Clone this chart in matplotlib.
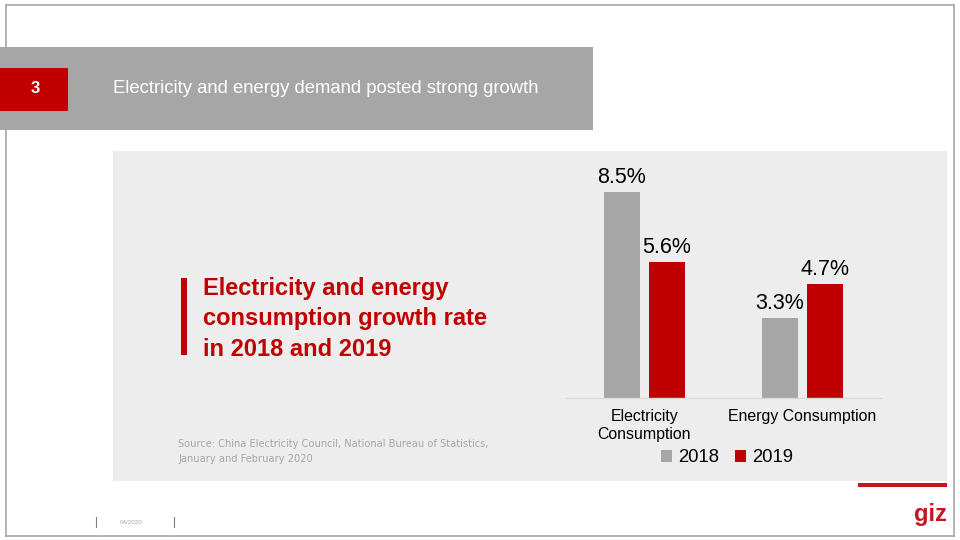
import matplotlib.pyplot as plt
from matplotlib.patches import Rectangle
from matplotlib.lines import Line2D
import numpy as np

plt.rcParams['font.family'] = ['Liberation Sans', 'DejaVu Sans']

# chart data
categories = ['Electricity\nConsumption', 'Energy Consumption']
years = ['2018', '2019']
growth_2018 = [8.5, 3.3]
growth_2019 = [5.6, 4.7]

GRAY = '#a6a6a6'
RED = '#c00000'
PANEL = '#ededed'

W, H = 960, 540
fig = plt.figure(figsize=(9.6, 5.4), dpi=100)
fig.patch.set_facecolor('white')


def px(x, y):
    # pixel coords (top-left origin) -> figure fraction
    return x / W, 1 - y / H


def rect(x0, y0, x1, y1, color, z=0):
    fig.patches.append(Rectangle(px(x0, y1), (x1 - x0) / W, (y1 - y0) / H,
                                 transform=fig.transFigure, facecolor=color,
                                 edgecolor='none', zorder=z))


def line(x0, y0, x1, y1, color, lw=1.0, z=5):
    a, b = px(x0, y0)
    c, d = px(x1, y1)
    fig.lines.append(Line2D([a, c], [b, d], transform=fig.transFigure,
                            color=color, lw=lw, zorder=z))


# slide border (sits under the header band)
line(6, 5, 954, 5, '#a6a6a6', 1.2, 0.5)
line(6, 5, 6, 536, '#a6a6a6', 1.2, 0.5)
line(954, 5, 954, 536, '#a6a6a6', 1.2, 0.5)
line(6, 536, 954, 536, '#a6a6a6', 1.2, 0.5)

# header band
rect(0, 47, 593, 130, GRAY, 1)
rect(0, 68, 68, 111, RED, 2)
fig.text(*px(35, 89), '3', color='white', fontsize=12, fontweight='bold',
         ha='center', va='center', zorder=3)
fig.text(*px(113, 89), 'Electricity and energy demand posted strong growth',
         color='white', fontsize=13.3, ha='left', va='center', zorder=3)

# content panel
rect(113, 151, 947, 481, PANEL, 1)

# red title block
rect(181, 278, 187, 355, RED, 2)
title_lines = ['Electricity and energy', 'consumption growth rate', 'in 2018 and 2019']
for i, t in enumerate(title_lines):
    fig.text(*px(203, 289 + i * 30), t, color=RED, fontsize=17,
             fontweight='bold', ha='left', va='center', zorder=3)

# source note
src = ['Source: China Electricity Council, National Bureau of Statistics,',
       'January and February 2020']
for i, t in enumerate(src):
    fig.text(*px(178, 444 + i * 15), t, color='#a6a6a6', fontsize=7.1,
             family=['Liberation Sans Narrow', 'DejaVu Sans'],
             ha='left', va='center', zorder=3)

# bar chart
ax_l, ax_r = 565.5, 881.5
ax_top, ax_bot = 168, 398
l, b = px(ax_l, ax_bot)
ax = fig.add_axes([l, b, (ax_r - ax_l) / W, (ax_bot - ax_top) / H])
ax.set_facecolor('none')
ax.set_zorder(4)

x = np.arange(len(categories))
bw = 36 / 158
off = 22.5 / 158
b1 = ax.bar(x - off, growth_2018, bw, color=GRAY, label=years[0])
b2 = ax.bar(x + off, growth_2019, bw, color=RED, label=years[1])
for bars, vals in [(b1, growth_2018), (b2, growth_2019)]:
    for r, v in zip(bars, vals):
        ax.annotate(f'{v}%', (r.get_x() + r.get_width() / 2, v),
                    xytext=(0, 3), textcoords='offset points',
                    ha='center', va='bottom', fontsize=15.5, color='black')

ax.set_xlim(-0.5, 1.5)
ax.set_ylim(0, 9.5)
ax.set_xticks(x)
ax.set_xticklabels(categories, fontsize=11.4, linespacing=1.2)
ax.tick_params(axis='x', length=0, pad=8)
ax.set_yticks([])
for s in ['top', 'right', 'left']:
    ax.spines[s].set_visible(False)
ax.spines['bottom'].set_color('#d9d9d9')
ax.spines['bottom'].set_linewidth(1)

leg = fig.legend(handles=[b1, b2], labels=years, loc='center',
                 bbox_to_anchor=px(727, 458), ncol=2, frameon=False,
                 fontsize=13.3, handlelength=0.6, handleheight=0.6,
                 handletextpad=0.3, columnspacing=0.9)

# footer
rect(858, 483, 947, 487, '#c8141e', 2)
fig.text(*px(947, 514), 'giz', color='#c8141e', fontsize=17, fontweight='bold',
         ha='right', va='center', zorder=3)
line(96, 517, 96, 527, '#7f7f7f', 0.8)
line(174, 517, 174, 527, '#7f7f7f', 0.8)
fig.text(*px(120, 522), '04/2020', color='#a6a6a6', fontsize=4.5,
         ha='left', va='center')

fig.savefig('out.png', dpi=100)
